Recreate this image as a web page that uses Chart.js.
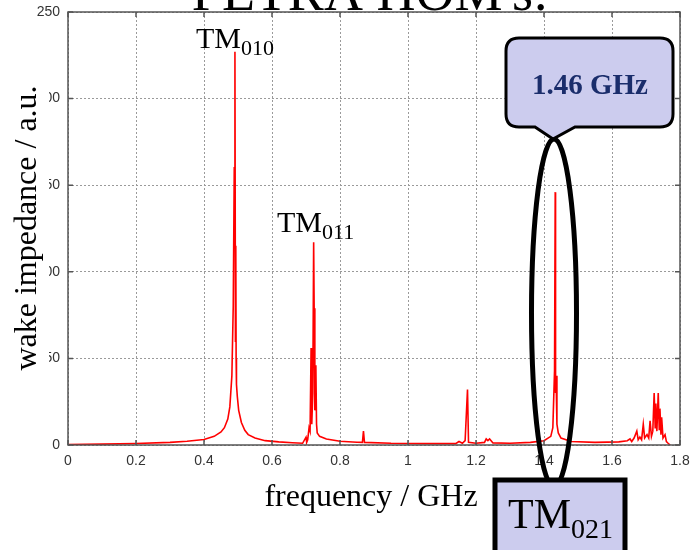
<!DOCTYPE html>
<html>
<head>
<meta charset="utf-8">
<script src="https://cdn.jsdelivr.net/npm/chart.js@4.4.1/dist/chart.umd.min.js"></script>
<style>
  body { margin: 0; background: #fff; }
</style>
</head>
<body>
<canvas id="c" width="692" height="550"></canvas>
<script>
// spectrum (GHz, a.u.)
var freq = [0.00, 0.10, 0.20, 0.30, 0.35, 0.40, 0.43, 0.45, 0.46, 0.47, 0.476, 0.482, 0.486, 0.489, 0.491, 0.4925, 0.4935, 0.4945, 0.4955, 0.498, 0.502, 0.51, 0.52, 0.53, 0.55, 0.58, 0.62, 0.66, 0.69,
  0.700, 0.702, 0.705, 0.709, 0.712, 0.715, 0.717, 0.720, 0.7225, 0.724, 0.726, 0.729, 0.731, 0.733, 0.74, 0.76, 0.80, 0.85, 0.866, 0.869, 0.872,
  0.95, 1.05, 1.14, 1.15, 1.16, 1.168, 1.175, 1.178, 1.20, 1.225, 1.23, 1.235, 1.24, 1.25, 1.30, 1.36, 1.40, 1.42, 1.426, 1.431, 1.433, 1.434, 1.4355, 1.438, 1.442, 1.45, 1.48, 1.55, 1.62,
  1.645, 1.653, 1.658, 1.665, 1.673, 1.677, 1.682, 1.687, 1.692, 1.696, 1.703, 1.708, 1.712, 1.716, 1.720, 1.724, 1.727, 1.729, 1.732, 1.736, 1.739, 1.741, 1.744, 1.746, 1.750, 1.756, 1.760, 1.765, 1.771];
var impedance = [0.3, 0.5, 0.9, 1.5, 2.2, 3.2, 5, 7.5, 10, 15, 22, 40, 80, 160, 227, 60, 115, 50, 35, 28, 20, 13, 8.5, 6, 4, 2.5, 1.8, 1.3, 1.0,
  4.5, 1.5, 3, 10, 8, 56, 12, 30, 117, 79, 20, 46, 12, 7, 5, 3.5, 2.2, 1.6, 1.5, 8, 1.5,
  1.0, 0.8, 0.8, 2, 1, 2.5, 32, 1.5, 1.0, 1.5, 3.5, 2.5, 3.5, 1.2, 1.0, 1.5, 2.5, 5, 10, 43, 146, 30, 40, 12, 7, 4, 2, 1.5, 1.8,
  2.5, 3.5, 2, 4, 8, 3, 4.6, 3, 12, 4, 6, 4, 14, 5, 8, 30, 10, 24, 8, 30, 9, 21, 6, 16, 4, 6, 2, 1, 0];
var xTicks = [0, 0.2, 0.4, 0.6, 0.8, 1, 1.2, 1.4, 1.6, 1.8];
var yTicks = [0, 50, 100, 150, 200, 250];

var points = freq.map(function (f, i) { return { x: f, y: impedance[i] }; });

var serif = '"Liberation Serif", "DejaVu Serif", serif';

function drawTM(ctx, x, base, size, sub, subSize, drop) {
  ctx.font = size + 'px ' + serif;
  ctx.textAlign = 'left';
  ctx.textBaseline = 'alphabetic';
  ctx.fillText('TM', x, base);
  var w = ctx.measureText('TM').width;
  ctx.font = subSize + 'px ' + serif;
  ctx.fillText(sub, x + w, base + drop);
}

var decorations = {
  id: 'decorations',
  afterDraw: function (chart) {
    var ctx = chart.ctx, a = chart.chartArea;
    var xs = chart.scales.x, ys = chart.scales.y;
    ctx.save();

    // frame + inward ticks
    ctx.strokeStyle = '#555';
    ctx.lineWidth = 1.5;
    ctx.strokeRect(a.left, a.top, a.right - a.left, a.bottom - a.top);
    ctx.beginPath();
    xTicks.forEach(function (v) {
      var px = xs.getPixelForValue(v);
      ctx.moveTo(px, a.bottom); ctx.lineTo(px, a.bottom - 5);
      ctx.moveTo(px, a.top); ctx.lineTo(px, a.top + 5);
    });
    yTicks.forEach(function (v) {
      var py = ys.getPixelForValue(v);
      ctx.moveTo(a.left, py); ctx.lineTo(a.left + 5, py);
      ctx.moveTo(a.right, py); ctx.lineTo(a.right - 5, py);
    });
    ctx.stroke();

    // top title, cut off by the page edge
    ctx.fillStyle = '#000';
    ctx.font = '54px ' + serif;
    ctx.textAlign = 'center';
    ctx.textBaseline = 'alphabetic';
    ctx.fillText("PETRA HOM's:", 370, 10);

    // y title sits on a white box that hides part of the tick labels
    ctx.fillStyle = '#fff';
    ctx.fillRect(0, 60, 49, 340);
    ctx.fillStyle = '#000';
    ctx.save();
    ctx.translate(28, 228);
    ctx.rotate(-Math.PI / 2);
    ctx.font = '32px ' + serif;
    ctx.textAlign = 'center';
    ctx.textBaseline = 'middle';
    ctx.fillText('wake impedance / a.u.', 0, 0);
    ctx.restore();

    // x title
    ctx.font = '32px ' + serif;
    ctx.textAlign = 'center';
    ctx.textBaseline = 'alphabetic';
    ctx.fillText('frequency / GHz', 371, 506);

    // mode labels
    drawTM(ctx, 196, 48, 30, '010', 22, 7);
    drawTM(ctx, 277, 232, 30, '011', 22, 7);

    // ellipse round the 1.46 GHz peak
    ctx.strokeStyle = '#000';
    ctx.lineWidth = 5;
    ctx.beginPath();
    ctx.ellipse(554, 313, 22.5, 174, 0, 0, Math.PI * 2);
    ctx.stroke();

    // callout
    var l = 506, r = 673, t = 38, b = 127, rad = 13;
    ctx.beginPath();
    ctx.moveTo(l + rad, t);
    ctx.lineTo(r - rad, t);
    ctx.quadraticCurveTo(r, t, r, t + rad);
    ctx.lineTo(r, b - rad);
    ctx.quadraticCurveTo(r, b, r - rad, b);
    ctx.lineTo(575, b);
    ctx.lineTo(553, 139);
    ctx.lineTo(535, b);
    ctx.lineTo(l + rad, b);
    ctx.quadraticCurveTo(l, b, l, b - rad);
    ctx.lineTo(l, t + rad);
    ctx.quadraticCurveTo(l, t, l + rad, t);
    ctx.closePath();
    ctx.fillStyle = '#ccccee';
    ctx.fill();
    ctx.lineWidth = 3;
    ctx.stroke();
    ctx.fillStyle = '#1a2d6b';
    ctx.font = 'bold 29px ' + serif;
    ctx.textAlign = 'center';
    ctx.fillText('1.46 GHz', 590, 94);

    // TM021 box
    ctx.fillStyle = '#ccccee';
    ctx.fillRect(495, 480, 130, 80);
    ctx.lineWidth = 5;
    ctx.strokeRect(495, 480, 130, 80);
    ctx.fillStyle = '#000';
    drawTM(ctx, 508, 528, 42, '021', 28, 10);

    ctx.restore();
  }
};

new Chart(document.getElementById('c'), {
  type: 'line',
  data: {
    datasets: [{
      data: points,
      borderColor: '#ff0000',
      borderWidth: 1.6,
      pointRadius: 0,
      tension: 0,
      fill: false
    }]
  },
  options: {
    responsive: false,
    animation: false,
    layout: { padding: { top: 12, right: 12, left: 0, bottom: 0 } },
    plugins: { legend: { display: false }, tooltip: { enabled: false } },
    scales: {
      x: {
        type: 'linear',
        min: 0, max: 1.8,
        afterBuildTicks: function (s) { s.ticks = xTicks.map(function (v) { return { value: v }; }); },
        afterFit: function (s) { s.height = 105; s.paddingLeft = 0; s.paddingRight = 0; },
        grid: { color: '#9a9a9a', lineWidth: 1, drawTicks: false },
        border: { display: false, dash: [2, 2] },
        ticks: {
          padding: 8,
          color: '#333',
          font: { family: '"Liberation Sans", Arial, sans-serif', size: 14 },
          callback: function (v) { return Number(v.toFixed(1)).toString(); }
        }
      },
      y: {
        min: 0, max: 250,
        afterBuildTicks: function (s) { s.ticks = yTicks.map(function (v) { return { value: v }; }); },
        afterFit: function (s) { s.width = 68; s.paddingTop = 0; s.paddingBottom = 0; },
        grid: { color: '#9a9a9a', lineWidth: 1, drawTicks: false },
        border: { display: false, dash: [2, 2] },
        ticks: {
          padding: 8,
          color: '#333',
          font: { family: '"Liberation Sans", Arial, sans-serif', size: 14 }
        }
      }
    }
  },
  plugins: [decorations]
});
</script>
</body>
</html>
